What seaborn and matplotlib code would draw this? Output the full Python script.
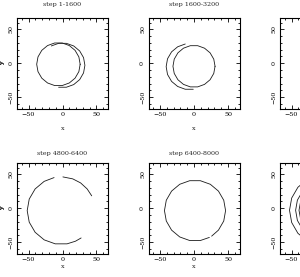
import numpy as np
import pandas as pd
import matplotlib
matplotlib.use("Agg")
import matplotlib.pyplot as plt
from matplotlib.ticker import MultipleLocator
import seaborn as sns

# ---------------- data ----------------
titles = ["step 1-1600", "step 1600-3200", "step 3200-4800",
          "step 4800-6400", "step 6400-8000", "step 8000-9600"]
tick_vals = [-50, 0, 50]
tick_labels = ["\u221250", "0", "50"]

# panel 1 : step 1-1600
p1a_x = [26, 24.1, 18.5, 10, -0.4, -11.6, -22, -30.5, -36.1, -38, -36.1, -30.5, -22, -11.6, -0.4, 10, 18.5, 24.1, 26]
p1a_y = [-1.5, 9.4, 19.1, 26.2, 30, 30, 26.2, 19.1, 9.4, -1.5, -12.4, -22.1, -29.2, -33, -33, -29.2, -22.1, -12.4, -1.5]
p1b_x = [-16.5, -5.7, 5.7, 16.5, 25.3, 31, 33, 31, 25.3, 16.5, 5.7, -5.7]
p1b_y = [25.6, 29.5, 29.5, 25.6, 18.2, 8.3, -3, -14.3, -24.2, -31.6, -35.5, -35.5]

# panel 2 : step 1600-3200
p2a_x = [-12.9, -24, -33, -39, -41, -39, -33, -24, -12.9, -1.1]
p2a_y = [28.5, 24.4, 16.9, 6.6, -5, -16.6, -26.9, -34.4, -38.5, -38.5]
p2b_x = [31, 29.1, 23.7, 15.5, 5.4, -5.4, -15.5, -23.7, -29.1, -31, -29.1, -23.7, -15.5, -5.4, 5.4, 15.5, 23.7, 29.1, 31]
p2b_y = [-4.5, 6.1, 15.4, 22.3, 26, 26, 22.3, 15.4, 6.1, -4.5, -15.1, -24.4, -31.3, -35, -35, -31.3, -24.4, -15.1, -4.5]

# panel 3 : step 3200-4800 (only the empty left edge is visible)
p3a_x = [-5.4, -15.5, -23.7, -29.1, -31, -29.1, -23.7, -15.5, -5.4]
p3a_y = [26, 22.3, 15.4, 6.1, -4.5, -15.1, -24.4, -31.3, -35]

# panel 4 : step 4800-6400
p4a_x = [43, 36.3, 26.7, 15.1, 0.6]
p4a_y = [18.4, 28.6, 37.5, 43.5, 46.4]
p4b_x = [-12.4, -27, -40.3, -49, -52, -49, -40.3, -27, -10.7, 6.7, 19.1, 27.4]
p4b_y = [45.4, 39.8, 28.6, 13.6, -3.5, -20.6, -35.6, -46.8, -52.7, -52.7, -48.8, -44]

# panel 5 : step 6400-8000
p5a_x = [26, 36, 43.8, 46.5, 43.8, 36, 24, 9.3, -6.3, -21, -33, -40.8, -43.5, -40.8, -33, -21, -6.3, 9.3, 22.6]
p5a_y = [-41.3, -32.4, -18.9, -3.5, 11.9, 25.4, 35.5, 40.8, 40.8, 35.5, 25.4, 11.9, -3.5, -18.9, -32.4, -42.5, -47.8, -47.8, -43.2]

# panel 6 : step 8000-9600 (left parts of nested orbits)
p6a_x = [-9.2, -26.5, -40.6, -49.8, -53, -49.8, -40.6, -26.5, -9.2]
p6a_y = [49.2, 42.9, 31.1, 15.1, -3, -21.1, -37.1, -48.9, -55.2]
p6b_x = [-7.6, -22, -33.7, -41.4, -44, -41.4, -33.7, -22, -7.6]
p6b_y = [40.3, 35.1, 25.3, 12, -3, -18, -31.3, -41.1, -46.3]
p6c_x = [-6.8, -19.5, -29.9, -36.6, -39, -36.6, -29.9, -19.5, -6.8]
p6c_y = [35.4, 30.8, 22.1, 10.3, -3, -16.3, -28.1, -36.8, -41.4]

panels = [
    [(p1a_x, p1a_y), (p1b_x, p1b_y)],
    [(p2a_x, p2a_y), (p2b_x, p2b_y)],
    [(p3a_x, p3a_y)],
    [(p4a_x, p4a_y), (p4b_x, p4b_y)],
    [(p5a_x, p5a_y)],
    [(p6a_x, p6a_y), (p6b_x, p6b_y), (p6c_x, p6c_y)],
]

# ---------------- figure ----------------
sns.set_style("ticks")
plt.rcParams["font.family"] = ["DejaVu Serif"]
plt.rcParams["axes.unicode_minus"] = True

W, H = 300, 277
fig = plt.figure(figsize=(W / 100, H / 100), dpi=100)
fig.patch.set_facecolor("white")

col_left = [17, 148.5, 280]
row_top = [18, 163]
title_y = [4.5, 154]
xlab_y = [129, 267]
aw, ah = 91, 90.5
fs = 4.6

for i, arcs in enumerate(panels):
    r, c = divmod(i, 3)
    left, top = col_left[c], row_top[r]
    ax = fig.add_axes([left / W, 1 - (top + ah) / H, aw / W, ah / H])
    for k, (xs, ys) in enumerate(arcs):
        df = pd.DataFrame({"x": xs, "y": ys, "order": range(len(xs))})
        sns.lineplot(data=df, x="x", y="y", sort=False, estimator=None,
                     ax=ax, color="#1a1a1a", linewidth=0.6)
    ax.set_xlim(-67, 67)
    ax.set_ylim(-67, 67)
    ax.set_xticks(tick_vals)
    ax.set_xticklabels(tick_labels)
    ax.set_yticks(tick_vals)
    ax.set_yticklabels(tick_labels, rotation=90, va="center", ha="right")
    ax.xaxis.set_minor_locator(MultipleLocator(10))
    ax.yaxis.set_minor_locator(MultipleLocator(10))
    ax.tick_params(which="both", direction="in", top=True, right=True,
                   colors="black", labelsize=fs, width=0.6)
    ax.tick_params(which="major", length=3, pad=2.5)
    ax.tick_params(which="minor", length=1.5)
    for s in ax.spines.values():
        s.set_linewidth(0.8)
        s.set_color("black")
    ax.set_xlabel("x", fontsize=fs)
    ax.set_ylabel("y", fontsize=fs, rotation=90)
    ax.xaxis.set_label_coords(0.5, -(xlab_y[r] - (top + ah)) / ah)
    ax.xaxis.label.set_va("center")
    ax.yaxis.set_label_coords(-(left - 3) / aw, 0.5)
    ax.yaxis.label.set_va("center")
    ax.yaxis.label.set_ha("center")
    fig.text((left + aw / 2) / W, 1 - title_y[r] / H, titles[i],
             ha="center", va="center", fontsize=fs)

fig.savefig("out.png", dpi=100)
